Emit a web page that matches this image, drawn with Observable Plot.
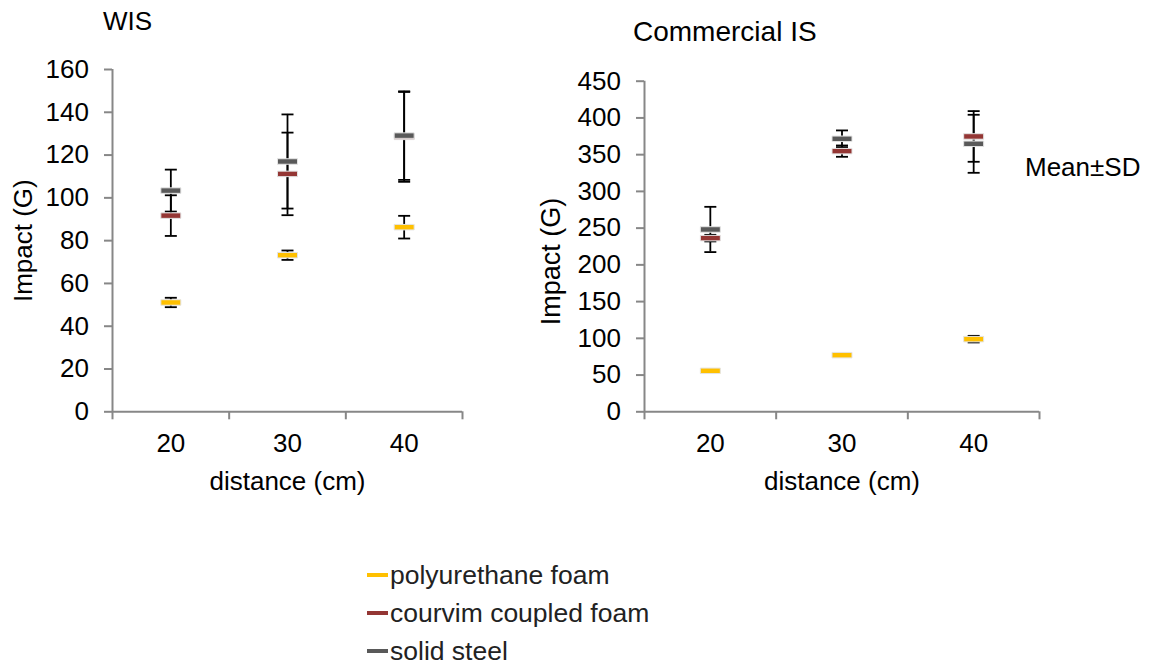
<!DOCTYPE html>
<html><head><meta charset="utf-8">
<script src="https://cdn.jsdelivr.net/npm/d3@7"></script>
<script src="https://cdn.jsdelivr.net/npm/@observablehq/plot@0.6"></script>
<style>
body{margin:0;background:#fff;font-family:"Liberation Sans",Arial,sans-serif;}
#wrap{position:relative;width:1154px;height:671px;overflow:hidden;background:#fff;}
.abs{position:absolute;white-space:nowrap;color:#000;line-height:1;}
.row{display:flex;align-items:center;height:38px;font-size:26.5px;color:#222;}
.sw{display:inline-block;width:21px;height:4px;margin-right:2px;}
svg{overflow:visible;}
</style></head><body>
<div id="wrap">
  <div id="left" class="abs" style="left:0;top:0"></div>
  <div id="right" class="abs" style="left:530px;top:0"></div>
  <div class="abs" style="left:103px;top:8px;font-size:26px">WIS</div>
  <div class="abs" style="left:633px;top:18px;font-size:28px">Commercial IS</div>
  <div class="abs" style="left:1025px;top:154px;font-size:26px">Mean±SD</div>
  <div id="legend" class="abs" style="left:367px;top:556px"></div>
</div>
<script>
// ---- data ----
const distances = [20, 30, 40];
const seriesNames = ["polyurethane foam", "courvim coupled foam", "solid steel"];
const seriesColors = ["#FFC000", "#943634", "#595959"];

// WIS panel (mean, SD)
const wisPolyMean = [51.1, 73.2, 86.3];
const wisPolySd = [2.2, 2.2, 5.3];
const wisCourvimMean = [91.7, 111.2, 128.5];
const wisCourvimSd = [9.5, 19.3, 21.0];
const wisSteelMean = [103.4, 117.0, 129.1];
const wisSteelSd = [9.8, 22.0, 20.7];
const wisTicks = [0, 20, 40, 60, 80, 100, 120, 140, 160];

// Commercial IS panel (mean, SD)
const comPolyMean = [55.8, 77.1, 98.9];
const comPolySd = [1.0, 1.0, 4.5];
const comCourvimMean = [236.4, 354.8, 374.8];
const comCourvimSd = [4.5, 7.7, 34.5];
const comSteelMean = [248.2, 371.6, 364.8];
const comSteelSd = [30.8, 11.4, 39.5];
const comTicks = [0, 50, 100, 150, 200, 250, 300, 350, 400, 450];

// ---- helpers ----
function rows(means, sds) {
  const out = [];
  means.forEach((m, s) => m.forEach((v, i) => out.push({distance: distances[i], series: seriesNames[s], mean: v, sd: sds[s][i]})));
  return out;
}
const step = distances[1] - distances[0];
const bounds = [...distances.map(d => d - step / 2), distances[distances.length - 1] + step / 2];
const gray = "#878787";

const dashSym = (w, h) => ({draw(ctx) {
  ctx.moveTo(-w / 2, -h / 2); ctx.lineTo(w / 2, -h / 2); ctx.lineTo(w / 2, h / 2); ctx.lineTo(-w / 2, h / 2); ctx.closePath();
}});
const capSym = (w) => ({draw(ctx) { ctx.moveTo(-w / 2, 0); ctx.lineTo(w / 2, 0); }});

function panel({data, ticks, width, height, mL, mR, mT, mB, yLabelDx, yLabelDy, yLabelSize}) {
  return Plot.plot({
    width, height,
    marginLeft: mL, marginRight: mR, marginTop: mT, marginBottom: mB,
    style: {fontFamily: "Liberation Sans, Arial, sans-serif", fontSize: "26px", background: "white", color: "black"},
    x: {domain: [bounds[0], bounds[bounds.length - 1]]},
    y: {domain: [ticks[0], ticks[ticks.length - 1]]},
    color: {domain: seriesNames, range: seriesColors},
    marks: [
      Plot.ruleY([ticks[0]], {stroke: gray, strokeWidth: 2}),
      Plot.ruleX([bounds[0]], {stroke: gray, strokeWidth: 2}),
      Plot.axisY({ticks, tickSize: 8, tickPadding: 15.5, stroke: gray, strokeWidth: 2, label: null, fontSize: 26}),
      Plot.axisX({ticks: distances, tickSize: 0, tickPadding: 22, label: null, fontSize: 26}),
      Plot.axisX({ticks: bounds, tickSize: 8, tickFormat: () => "", stroke: gray, strokeWidth: 2, label: null}),
      Plot.text(["distance (cm)"], {frameAnchor: "bottom", textAnchor: "middle", lineAnchor: "middle", dy: 70, fontSize: 26, fill: "black"}),
      Plot.text(["Impact (G)"], {frameAnchor: "left", textAnchor: "middle", lineAnchor: "middle", rotate: -90, dx: yLabelDx, dy: yLabelDy, fontSize: yLabelSize, fill: "black"}),
      Plot.ruleX(data.filter(d => d.sd > 0), {x: "distance", y1: d => d.mean - d.sd, y2: d => d.mean + d.sd, stroke: "black", strokeWidth: 1.8}),
      Plot.dot(data, {x: "distance", y: d => d.mean + d.sd, symbol: capSym(12), r: 6, fill: "none", stroke: "black", strokeWidth: 1.8}),
      Plot.dot(data, {x: "distance", y: d => d.mean - d.sd, symbol: capSym(12), r: 6, fill: "none", stroke: "black", strokeWidth: 1.8}),
      Plot.dot(data, {x: "distance", y: "mean", symbol: dashSym(20, 5.5), r: 6, fill: "series", stroke: "#e4e4e4", strokeWidth: 1})
    ]
  });
}

const wisData = rows([wisPolyMean, wisCourvimMean, wisSteelMean], [wisPolySd, wisCourvimSd, wisSteelSd]);
const comData = rows([comPolyMean, comCourvimMean, comSteelMean], [comPolySd, comCourvimSd, comSteelSd]);

document.getElementById("left").appendChild(panel({
  data: wisData, ticks: wisTicks, width: 480, height: 500,
  mL: 112, mR: 18, mT: 69, mB: 88.7, yLabelDx: -88.5, yLabelDy: 0, yLabelSize: 26
}));
document.getElementById("right").appendChild(panel({
  data: comData, ticks: comTicks, width: 624, height: 500,
  mL: 114, mR: 115, mT: 80.7, mB: 88.7, yLabelDx: -93, yLabelDy: 15, yLabelSize: 27
}));

// legend
const legend = document.getElementById("legend");
seriesNames.forEach((name, i) => {
  const row = document.createElement("div");
  row.className = "row";
  const sw = document.createElement("span");
  sw.className = "sw";
  sw.style.background = seriesColors[i];
  const label = document.createElement("span");
  label.textContent = name;
  row.appendChild(sw); row.appendChild(label);
  legend.appendChild(row);
});
</script>
</body></html>
